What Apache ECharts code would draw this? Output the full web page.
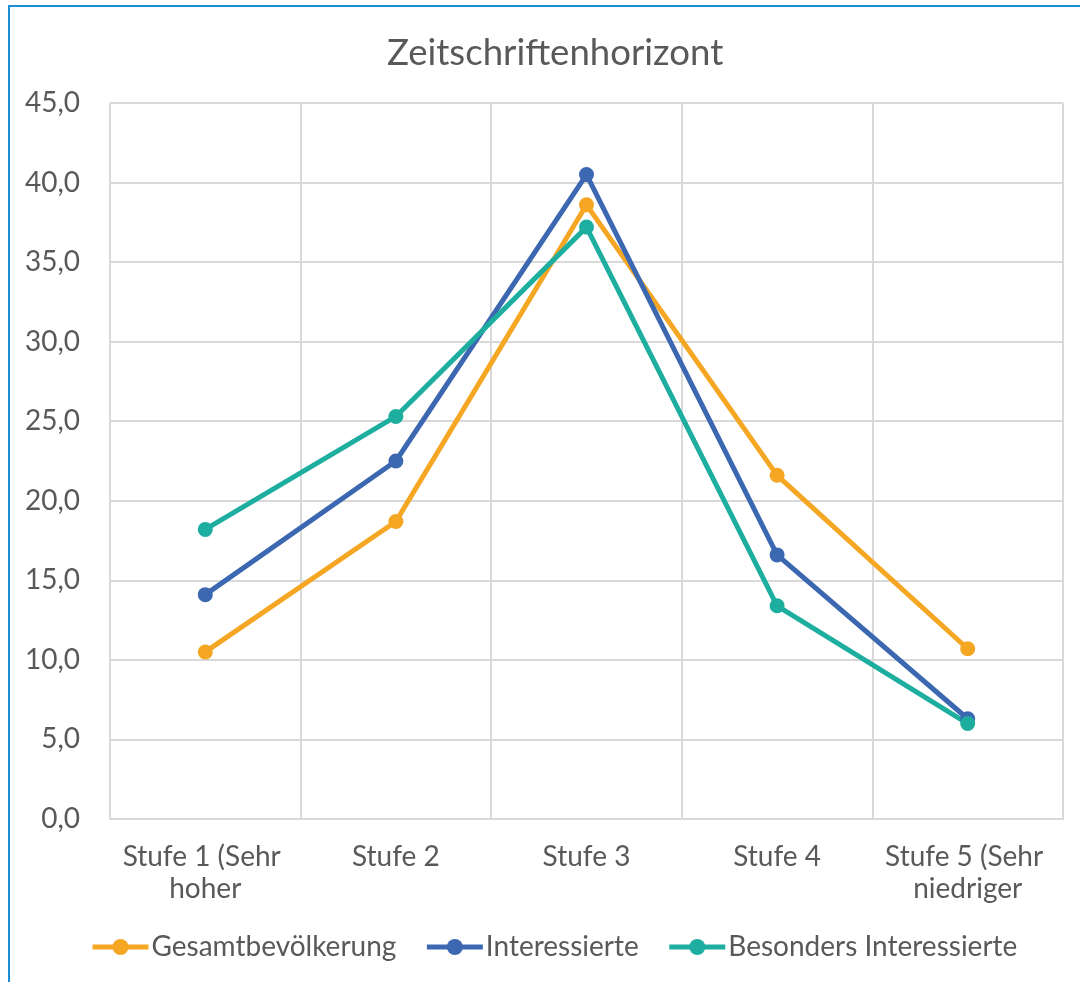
<!DOCTYPE html>
<html><head><meta charset="utf-8">
<script src="https://cdn.jsdelivr.net/npm/echarts@6/dist/echarts.min.js"></script>
<style>html,body{margin:0;padding:0;background:#fff}#c{width:1080px;height:982px}</style>
</head><body><div id="c"></div>
<script>
const categories = ["Stufe 1 (Sehr hoher", "Stufe 2", "Stufe 3", "Stufe 4", "Stufe 5 (Sehr niedriger"];
const gesamt = [10.5, 18.7, 38.6, 21.6, 10.7];
const interessierte = [14.1, 22.5, 40.5, 16.6, 6.3];
const besonders = [18.2, 25.3, 37.2, 13.4, 6.0];
const seriesNames = ["Gesamtbevölkerung", "Interessierte", "Besonders Interessierte"];
const colors = ["#F5A623", "#3C67B1", "#1EAEA0"];

const chart = echarts.init(document.getElementById('c'));
const font = 'Lato, "Open Sans", sans-serif';
function mk(name, data, color) {
  return { name, type: 'line', data, symbol: 'circle', symbolSize: 15,
    lineStyle: { width: 5, color }, itemStyle: { color }, z: 3 };
}
chart.setOption({
  animation: false,
  textStyle: { fontFamily: font },
  graphic: [{ type: 'rect', shape: { x: 9, y: 6, width: 1200, height: 1200 },
    style: { fill: 'none', stroke: '#1A8FD6', lineWidth: 2 }, silent: true }],
  title: { text: 'Zeitschriftenhorizont', left: 382, top: 30,
    textStyle: { fontFamily: font, fontSize: 36.6, fontWeight: 'normal', color: '#595959' } },
  legend: { bottom: 16, left: 85, itemWidth: 56, itemHeight: 20, itemGap: 28,
    lineStyle: { width: 5 },
    textStyle: { fontFamily: font, fontSize: 28, color: '#595959', padding: [0, 0, 0, -2] },
    data: seriesNames },
  grid: { left: 110, right: 17, top: 103, bottom: 163 },
  xAxis: { type: 'category', data: categories, boundaryGap: true,
    axisLine: { show: true, lineStyle: { color: '#D9D9D9', width: 2 } },
    axisTick: { show: false },
    splitLine: { show: true, lineStyle: { color: '#D9D9D9', width: 2 } },
    axisLabel: { color: '#595959', fontSize: 28, fontFamily: font, margin: 22, lineHeight: 32,
      width: 190, overflow: 'break', interval: 0 } },
  yAxis: { type: 'value', min: 0, max: 45, interval: 5,
    axisLine: { show: false }, axisTick: { show: false },
    splitLine: { lineStyle: { color: '#D9D9D9', width: 2 } },
    axisLabel: { color: '#595959', fontSize: 28, fontFamily: font, margin: 30,
      formatter: v => v.toFixed(1).replace('.', ',') } },
  series: [mk(seriesNames[0], gesamt, colors[0]), mk(seriesNames[1], interessierte, colors[1]), mk(seriesNames[2], besonders, colors[2])]
});
</script></body></html>
